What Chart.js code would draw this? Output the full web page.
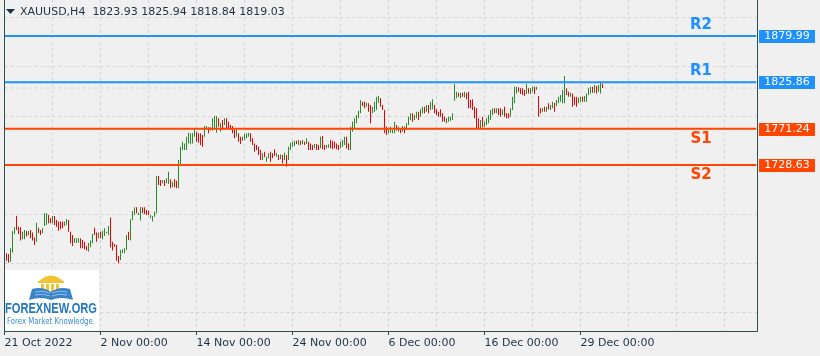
<!DOCTYPE html>
<html>
<head>
<meta charset="utf-8">
<script src="https://cdn.jsdelivr.net/npm/chart.js@4.4.1/dist/chart.umd.min.js"></script>
<style>
  html, body { margin: 0; padding: 0; background: #f0f0f0; }
  #wrap { width: 820px; height: 356px; }
</style>
</head>
<body>
<div id="wrap"><canvas id="chart" width="820" height="356"></canvas></div>
<script>
// data (H4 bars, open / close)
const symbol = 'XAUUSD,H4';
const lastOHLC = ['1823.93', '1825.94', '1818.84', '1819.03'];

const opens = [
  1625.8,1625.0,1624.2,1615.2,1625.8,1647.7,1668.8,1656.3,1655.5,1641.4,
  1641.4,1651.2,1646.2,1652.4,1649.3,1643.4,1638.7,1655.1,1652.4,1648.5,
  1657.1,1658.3,1670.0,1666.1,1660.2,1668.8,1664.2,1662.2,1662.2,1662.2,
  1657.1,1658.3,1664.2,1650.4,1646.5,1637.5,1637.5,1637.5,1642.6,1640.7,
  1638.7,1633.6,1627.0,1632.0,1636.7,1655.1,1649.3,1642.6,1650.4,1641.4,
  1645.4,1648.5,1646.5,1666.9,1638.7,1636.0,1634.8,1621.9,1617.2,1625.0,
  1625.0,1628.9,1650.4,1639.9,1664.2,1670.0,1679.0,1670.0,1663.4,1679.0,
  1679.0,1675.9,1675.0,1666.1,1662.2,1668.0,1672.0,1715.8,1711.0,1707.1,
  1711.0,1707.1,1706.3,1711.8,1702.4,1711.8,1710.2,1701.3,1729.8,1746.2,
  1746.2,1746.2,1754.0,1753.0,1754.0,1761.9,1767.8,1765.8,1765.8,1763.8,
  1761.9,1771.0,1772.8,1769.0,1769.0,1770.5,1766.6,1783.4,1767.8,1781.4,
  1775.6,1783.4,1779.5,1775.6,1774.4,1771.7,1761.9,1765.8,1761.9,1757.2,
  1758.0,1759.9,1761.9,1765.8,1759.9,1754.0,1752.1,1750.1,1746.2,1734.5,
  1744.3,1732.5,1736.5,1744.3,1742.3,1747.0,1738.4,1740.4,1735.3,1740.4,
  1734.5,1740.4,1734.5,1746.2,1750.1,1750.9,1757.2,1752.1,1757.2,1753.3,
  1756.0,1753.3,1756.0,1754.0,1752.1,1748.2,1753.3,1752.1,1748.2,1762.7,
  1752.1,1748.2,1749.0,1758.0,1757.2,1756.0,1754.0,1752.1,1748.2,1750.2,
  1752.1,1761.9,1754.0,1746.2,1767.8,1771.7,1777.5,1783.4,1789.3,1803.0,
  1803.0,1797.1,1801.0,1799.0,1789.3,1791.2,1793.2,1801.8,1806.9,1799.0,
  1793.2,1773.6,1765.8,1766.6,1765.8,1765.8,1775.6,1767.8,1771.7,1767.8,
  1773.6,1769.7,1775.6,1781.4,1789.3,1781.4,1783.4,1791.2,1785.4,1789.3,
  1797.1,1791.2,1799.0,1793.2,1794.0,1799.0,1794.0,1791.2,1794.0,1789.3,
  1785.4,1777.5,1779.5,1780.7,1781.5,1804.1,1806.9,1813.5,1806.9,1813.5,
  1808.0,1813.5,1814.7,1804.9,1805.7,1797.1,1795.1,1783.4,1771.7,1785.4,
  1773.6,1775.6,1777.5,1781.5,1787.3,1795.1,1789.3,1795.1,1795.1,1787.3,
  1797.1,1789.3,1789.3,1785.4,1793.2,1801.0,1812.7,1819.8,1818.6,1818.6,
  1816.7,1812.0,1818.6,1812.0,1814.7,1820.6,1816.7,1809.6,1795.1,1791.2,
  1797.1,1791.2,1801.0,1793.2,1795.1,1801.8,1797.9,1801.0,1802.9,1801.0,
  1801.0,1818.6,1814.7,1808.8,1812.7,1808.8,1808.8,1801.0,1802.9,1808.8,
  1802.9,1802.9,1810.8,1812.7,1820.6,1813.5,1821.4,1814.7,1812.7,1823.93
];
const closes = [
  1620.3,1616.4,1614.0,1630.9,1651.2,1655.5,1652.4,1647.7,1639.9,1650.4,
  1652.4,1644.6,1651.2,1642.6,1639.9,1634.8,1661.0,1648.5,1646.5,1654.3,
  1672.0,1672.0,1660.2,1660.2,1668.8,1658.3,1656.3,1651.6,1653.2,1654.3,
  1662.2,1665.3,1650.4,1636.7,1633.6,1642.6,1642.6,1642.6,1630.9,1630.9,
  1629.7,1628.2,1637.5,1639.9,1647.7,1646.5,1638.7,1649.3,1642.6,1651.6,
  1654.3,1650.4,1657.1,1632.0,1628.2,1632.9,1616.4,1613.3,1628.9,1629.7,
  1630.9,1646.5,1640.7,1664.9,1674.7,1679.0,1672.0,1672.7,1679.0,1672.0,
  1671.2,1670.0,1670.0,1670.0,1668.8,1673.9,1715.8,1705.2,1704.0,1711.0,
  1704.0,1713.0,1720.8,1701.3,1709.0,1702.4,1701.3,1734.5,1750.1,1756.0,
  1754.0,1761.9,1766.6,1766.0,1765.8,1771.7,1756.0,1754.8,1752.1,1750.1,
  1774.4,1774.4,1765.8,1772.8,1783.4,1786.1,1786.1,1773.6,1777.5,1769.7,
  1783.4,1771.7,1771.7,1769.7,1765.8,1759.9,1769.7,1756.0,1753.3,1761.9,
  1765.0,1765.8,1766.6,1756.0,1752.1,1744.3,1746.2,1740.4,1734.5,1742.3,
  1737.6,1738.4,1742.3,1732.5,1736.5,1739.2,1742.3,1734.5,1741.1,1730.6,
  1743.1,1726.7,1750.1,1754.8,1756.0,1757.2,1753.3,1758.0,1752.1,1758.0,
  1752.1,1759.9,1746.2,1746.2,1746.2,1753.3,1746.2,1746.2,1761.9,1747.0,
  1746.2,1752.1,1753.0,1748.2,1747.0,1748.2,1747.0,1746.2,1756.0,1758.0,
  1761.9,1748.2,1746.2,1773.6,1779.5,1783.4,1787.3,1792.4,1804.9,1797.9,
  1795.1,1801.8,1791.2,1777.5,1797.1,1803.0,1808.8,1809.6,1797.1,1793.2,
  1765.8,1763.9,1769.7,1773.6,1769.7,1779.5,1769.0,1773.6,1765.8,1774.4,
  1765.8,1777.5,1785.4,1789.3,1779.5,1787.3,1791.2,1781.4,1794.0,1797.1,
  1789.3,1799.0,1789.3,1803.0,1805.7,1789.3,1787.3,1785.4,1785.4,1779.5,
  1779.5,1783.4,1785.4,1785.4,1789.3,1823.7,1814.7,1808.8,1813.5,1808.8,
  1814.7,1805.7,1795.1,1795.1,1793.2,1783.4,1771.7,1771.7,1781.5,1772.8,
  1779.5,1783.4,1787.3,1793.2,1795.1,1789.3,1795.1,1787.3,1785.4,1793.9,
  1785.4,1783.4,1783.4,1795.1,1808.8,1820.6,1820.6,1814.7,1812.0,1810.8,
  1809.6,1823.7,1812.7,1818.6,1820.6,1812.0,1820.6,1785.4,1789.3,1795.1,
  1791.2,1797.1,1793.9,1799.0,1802.9,1791.2,1804.9,1808.8,1810.8,1816.7,
  1833.1,1810.8,1808.8,1813.5,1797.1,1799.0,1797.1,1808.0,1808.8,1802.9,
  1809.6,1812.7,1818.6,1820.6,1813.5,1822.5,1812.7,1822.5,1826.4,1819.03
];

// time axis: bar index of each label
const tickBars = [0, 48, 96, 144, 192, 240, 288];
const tickLabels = ['21 Oct 2022', '2 Nov 00:00', '14 Nov 00:00', '24 Nov 00:00',
                    '6 Dec 00:00', '16 Dec 00:00', '29 Dec 00:00'];

// support / resistance levels
const levelNames = ['R2', 'R1', 'S1', 'S2'];
const levelValues = [1879.99, 1825.86, 1771.24, 1728.63];
const bidPrice = 1819.03;

// horizontal grid prices
const gridPrices = [1556.1, 1613.6, 1671.1, 1728.6, 1786.1, 1843.7, 1901.2];

const barSlots = 376;
const upColor = '#2a8a2a';
const downColor = '#ee0000';
const blue = '#1e90ff';
const orange = '#ff4500';
const frameColor = '#2f4f4f';
const gridColor = '#d4d4d4';
const textColor = '#1e3246';

const levelColor = (name) => name[0] === 'R' ? blue : orange;

const bars = opens.map((o, i) => ({ x: i, y: [o, closes[i]] }));
const barColors = opens.map((o, i) => closes[i] >= o ? upColor : downColor);

const levelSets = levelValues.map((v, i) => ({
  type: 'line',
  data: [{ x: 0, y: v }, { x: barSlots, y: v }],
  borderColor: levelColor(levelNames[i]),
  borderWidth: 2,
  pointRadius: 0,
  order: 0
}));

const bidSet = {
  type: 'line',
  data: [{ x: 0, y: bidPrice }, { x: barSlots, y: bidPrice }],
  borderColor: gridColor,
  borderWidth: 1,
  borderDash: [3, 3],
  pointRadius: 0,
  order: 3
};

// frame, title, level labels, logo
const overlay = {
  id: 'overlay',
  afterDraw(chart) {
    const { ctx, scales: { y } } = chart;
    ctx.save();

    // frame
    ctx.strokeStyle = frameColor;
    ctx.lineWidth = 1;
    ctx.beginPath();
    ctx.moveTo(4.5, 0);
    ctx.lineTo(4.5, 331.5);
    ctx.lineTo(757.5, 331.5);
    ctx.lineTo(757.5, 0);
    ctx.stroke();

    // title
    ctx.fillStyle = textColor;
    ctx.beginPath();
    ctx.moveTo(6, 9);
    ctx.lineTo(15, 9);
    ctx.lineTo(10.5, 14);
    ctx.closePath();
    ctx.fill();
    ctx.font = '11px "DejaVu Sans"';
    ctx.textBaseline = 'middle';
    ctx.textAlign = 'left';
    ctx.fillText(symbol + '  ' + lastOHLC.join(' '), 20, 12.5);

    // level names and price boxes
    levelValues.forEach((v, i) => {
      const name = levelNames[i];
      const py = y.getPixelForValue(v);
      const col = levelColor(name);
      ctx.fillStyle = col;
      ctx.font = 'bold 15px "DejaVu Sans"';
      ctx.textAlign = 'center';
      ctx.fillText(name, 701, name[0] === 'R' ? py - 11 : py + 10);

      ctx.fillRect(759, Math.round(py) - 6, 56, 13);
      ctx.fillStyle = '#ffffff';
      ctx.font = '11px "DejaVu Sans"';
      ctx.fillText(v.toFixed(2), 787, Math.round(py) + 0.5);
    });

    // logo
    ctx.fillStyle = '#ffffff';
    ctx.fillRect(5, 270, 94, 61);
    // building
    ctx.fillStyle = '#f2c230';
    ctx.beginPath();
    ctx.moveTo(38, 282);
    ctx.quadraticCurveTo(51, 269, 64, 282);
    ctx.closePath();
    ctx.fill();
    ctx.fillRect(38, 281, 26, 2);
    [41, 46, 51, 56].forEach(cx => ctx.fillRect(cx, 284, 3, 9));
    // book
    ctx.fillStyle = '#3b83c9';
    ctx.beginPath();
    ctx.moveTo(29, 300);
    ctx.lineTo(32, 289);
    ctx.quadraticCurveTo(43, 286, 51, 292);
    ctx.quadraticCurveTo(59, 286, 70, 289);
    ctx.lineTo(73, 300);
    ctx.quadraticCurveTo(61, 296, 51, 300);
    ctx.quadraticCurveTo(41, 296, 29, 300);
    ctx.closePath();
    ctx.fill();
    ctx.strokeStyle = '#a9cdee';
    ctx.lineWidth = 0.8;
    [291, 294].forEach(ly => {
      ctx.beginPath();
      ctx.moveTo(35, ly + 1); ctx.quadraticCurveTo(43, ly - 1, 50, ly + 2);
      ctx.moveTo(52, ly + 2); ctx.quadraticCurveTo(59, ly - 1, 67, ly + 1);
      ctx.stroke();
    });
    ctx.fillStyle = '#2378c0';
    ctx.font = 'bold 14px "Liberation Sans"';
    ctx.textAlign = 'left';
    ctx.textBaseline = 'alphabetic';
    ctx.fillText('FOREXNEW.ORG', 5, 313, 92);
    ctx.fillStyle = '#3a8cd2';
    ctx.font = '8px "DejaVu Sans"';
    ctx.fillText('Forex Market Knowledge.', 7, 324, 88);

    ctx.restore();
  }
};

const gridBars = [];
for (let v = 0; v < barSlots; v += 24) gridBars.push(v);

new Chart(document.getElementById('chart'), {
  type: 'bar',
  data: {
    datasets: [
      ...levelSets,
      {
        type: 'bar',
        data: bars,
        backgroundColor: barColors,
        grouped: false,
        barThickness: 1,
        maxBarThickness: 1,
        inflateAmount: 0,
        minBarLength: 1,
        borderWidth: 0,
        order: 2
      },
      bidSet
    ]
  },
  options: {
    responsive: false,
    animation: false,
    events: [],
    layout: { padding: { left: 4.5, top: 0, right: 0, bottom: 0 } },
    plugins: { legend: { display: false }, tooltip: { enabled: false } },
    scales: {
      x: {
        type: 'linear',
        min: 0,
        max: barSlots,
        offset: false,
        afterBuildTicks: (s) => { s.ticks = gridBars.map(v => ({ value: v })); },
        afterFit: (s) => { s.height = 25; },
        ticks: {
          autoSkip: false,
          maxRotation: 0,
          align: 'start',
          padding: 2,
          color: textColor,
          font: { family: 'DejaVu Sans', size: 11 },
          callback: (v) => {
            const k = tickBars.indexOf(v);
            return k >= 0 ? tickLabels[k] : '';
          }
        },
        grid: {
          offset: false,
          color: gridColor,
          tickLength: 4,
          tickBorderDash: [],
          tickColor: (c) => (c.tick && tickBars.includes(c.tick.value)) ? frameColor : 'rgba(0,0,0,0)'
        },
        border: { display: false, dash: [3, 3] }
      },
      y: {
        type: 'linear',
        position: 'right',
        min: 1533.8,
        max: 1922.3,
        afterBuildTicks: (s) => { s.ticks = gridPrices.map(v => ({ value: v })); },
        afterFit: (s) => { s.width = 63.5; },
        ticks: { display: false },
        grid: { color: gridColor, drawTicks: false },
        border: { display: false, dash: [3, 3] }
      }
    }
  },
  plugins: [overlay]
});
</script>
</body>
</html>
